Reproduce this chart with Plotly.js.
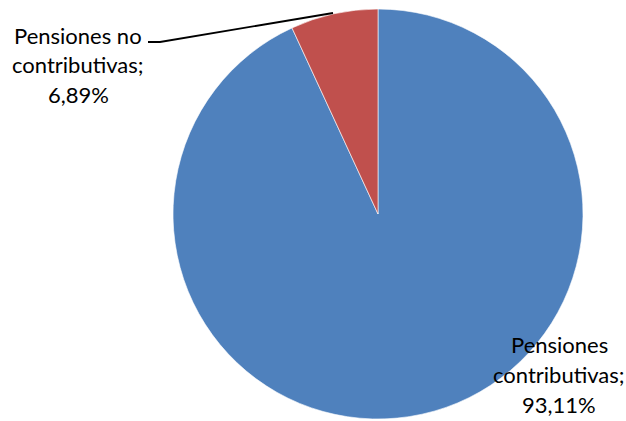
<!DOCTYPE html>
<html>
<head>
<meta charset="utf-8">
<script src="https://cdn.plot.ly/plotly-3.0.1.min.js"></script>
<style>html,body{margin:0;padding:0;background:#fff;}#chart{width:626px;height:421px;}</style>
</head>
<body>
<div id="chart"></div>
<script>
const categories = ["Pensiones contributivas", "Pensiones no contributivas"];
const shares = [93.11, 6.89];
const sliceColors = ["#4F81BD", "#C0504D"];

const W = 626, H = 421;
const font = {family: "Lato, Open Sans, sans-serif", size: 22, color: "#000"};

function labelLines(name, v) {
  const i = name.lastIndexOf(" ");
  return [name.slice(0, i), name.slice(i + 1) + ";", v.toFixed(2).replace(".", ",") + "%"];
}

// label placement (pixels): centre x, first line y, line step
const labelPos = [
  {x: 559, y: 344, step: 30},
  {x: 78, y: 35, step: 30}
];

const annotations = [];
categories.forEach((c, k) => {
  labelLines(c, shares[k]).forEach((t, j) => {
    annotations.push({
      text: t, showarrow: false, xref: "paper", yref: "paper",
      x: labelPos[k].x / W, y: 1 - (labelPos[k].y + j * labelPos[k].step) / H,
      xanchor: "center", yanchor: "middle", font: font
    });
  });
});

const data = [{
  type: "pie",
  labels: categories,
  values: shares,
  sort: false,
  direction: "clockwise",
  rotation: 0,
  textinfo: "none",
  hoverinfo: "label+percent",
  marker: {colors: sliceColors, line: {color: "#ffffff", width: 0.6}},
  domain: {x: [173 / W, 583 / W], y: [1 - 419 / H, 1 - 9 / H]}
}];

const layout = {
  width: W, height: H,
  margin: {l: 0, r: 0, t: 0, b: 0},
  paper_bgcolor: "#ffffff",
  showlegend: false,
  annotations: annotations,
  shapes: [{
    type: "path", xref: "paper", yref: "paper",
    path: "M " + (333 / W) + "," + (1 - 13 / H) + " L " + (160 / W) + "," + (1 - 42 / H) + " L " + (148 / W) + "," + (1 - 42 / H),
    line: {color: "#000", width: 1.8}
  }]
};

Plotly.newPlot("chart", data, layout, {displayModeBar: false, staticPlot: true});
</script>
</body>
</html>
